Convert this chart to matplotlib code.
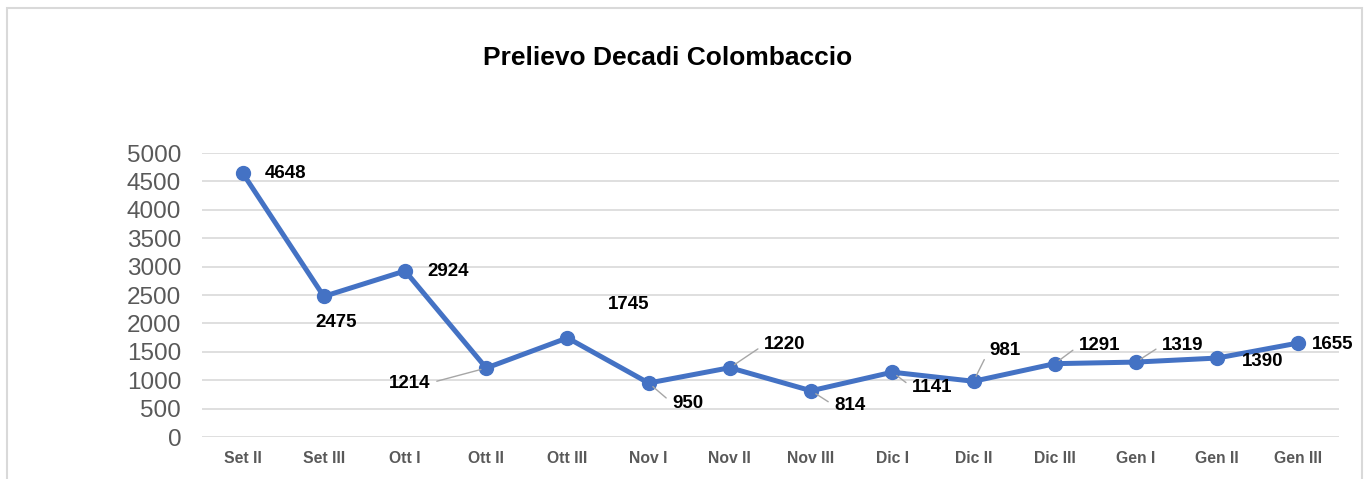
import matplotlib
matplotlib.use('Agg')
import matplotlib.pyplot as plt
from matplotlib.patches import Rectangle

plt.rcParams['font.family'] = ['Liberation Sans', 'DejaVu Sans']

categories = ['Set II', 'Set III', 'Ott I', 'Ott II', 'Ott III', 'Nov I', 'Nov II',
              'Nov III', 'Dic I', 'Dic II', 'Dic III', 'Gen I', 'Gen II', 'Gen III']
values = [4648, 2475, 2924, 1214, 1745, 950, 1220, 814, 1141, 981, 1291, 1319, 1390, 1655]
yticks = list(range(0, 5001, 500))

# label offsets in pixels from the point, and whether a leader line is drawn
offsets = [(43, -1), (12, -26), (43, -1), (-77, -15), (61, 33), (39, -20), (55, 23),
           (39, -15), (40, -15), (31, 31), (45, 18), (47, 17), (45, -3), (34, -2)]
leaders = [False, False, False, True, False, True, True,
           True, True, True, True, True, False, False]

fig = plt.figure(figsize=(13.67, 4.79), dpi=100)
fig.patches.append(Rectangle((7 / 1367, -0.05), 1355 / 1367, 1.05 - 8 / 479,
                             transform=fig.transFigure, fill=False,
                             edgecolor='#D9D9D9', lw=1.5))

ax = fig.add_axes([202 / 1367, 1 - 437 / 479, 1137 / 1367, 284 / 479])
x = list(range(len(categories)))
ax.plot(x, values, color='#4472C4', lw=3.6, marker='o', markersize=10, zorder=3)

ax.set_xlim(-0.5, len(categories) - 0.5)
ax.set_ylim(0, 5000)
ax.set_yticks(yticks)
ax.set_xticks(x)
ax.set_xticklabels(categories, fontsize=11.3, fontweight='bold', color='#595959')
ax.tick_params(axis='y', labelsize=17.5, labelcolor='#595959', length=0, pad=15)
ax.tick_params(axis='x', length=0, pad=10)
ax.grid(axis='y', color='#D9D9D9', lw=1.2)
ax.set_axisbelow(True)
for s in ax.spines.values():
    s.set_visible(False)

for i, v in enumerate(values):
    dx, dy = offsets[i]
    props = None
    if leaders[i]:
        rp = (1, 0.5) if dx < 0 else (0, 0.5)
        props = dict(arrowstyle='-', color='#A6A6A6', lw=1, shrinkA=3, shrinkB=4,
                     relpos=rp)
    ax.annotate(str(v), (x[i], v), xytext=(dx, dy), textcoords='offset pixels',
                ha='center', va='center', fontsize=13.5, fontweight='bold',
                color='black', arrowprops=props)

fig.text(668 / 1367, 1 - 58 / 479, 'Prelievo Decadi Colombaccio', ha='center',
         va='center', fontsize=19, fontweight='bold')

fig.savefig('out.png', dpi=100)
